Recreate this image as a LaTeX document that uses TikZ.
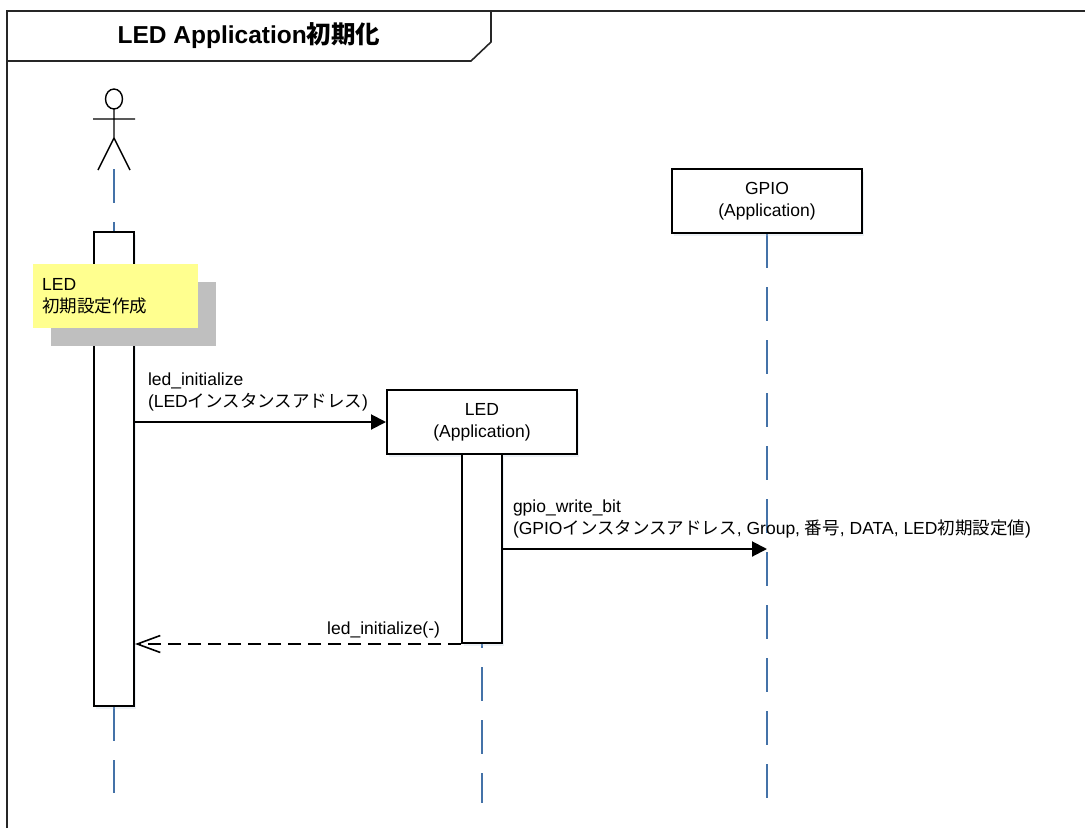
\documentclass[tikz,border=0pt]{standalone}
\usepackage{fontspec}
\setmainfont{Liberation Sans}
\newfontfamily\jp{Noto Sans CJK JP}
\usetikzlibrary{arrows.meta,shadows,backgrounds,positioning}
\definecolor{lifeblue}{RGB}{68,114,168}
\definecolor{noteyellow}{RGB}{255,255,143}

\begin{document}
\begin{tikzpicture}[
    x=1pt, y=-1pt,
    font=\fontsize{17.5}{22}\selectfont,
    framebox/.style={draw=black!85, line width=1.6pt},
    boxglow/.style={drop shadow={shadow xshift=2pt, shadow yshift=-3pt, fill=lifeblue!40, opacity=0.25}},
    objnode/.style={rectangle, draw, line width=2pt, fill=white, minimum width=190pt, minimum height=64pt, align=center, inner sep=0pt, boxglow},
    actbar/.style={rectangle, draw, line width=2pt, fill=white, minimum width=40pt, inner sep=0pt, boxglow},
    notenode/.style={rectangle, fill=noteyellow, text width=147pt, minimum height=64pt, inner xsep=9pt, inner ysep=0pt, align=left, drop shadow={shadow xshift=18pt, shadow yshift=-18pt, fill=black!25, opacity=1}},
    lifeline/.style={draw=lifeblue, line width=1.6pt, dash pattern=on 34pt off 19pt},
    msgline/.style={line width=2pt, -{Triangle[length=15pt,width=15pt]}},
    retline/.style={line width=2pt, dash pattern=on 13pt off 7pt, -{Straight Barb[length=23pt,width=17pt,line width=1.6pt]}},
    msglabel/.style={inner sep=0pt, align=left},
    ]
    \useasboundingbox (0,0) rectangle (1085,828);

    %Frame
    \draw[framebox] (7,828) -- (7,11) -- (1085,11);
    \draw[framebox] (7,61) -- (471,61) -- (491,42) -- (491,11);
    \node[font=\fontsize{24.5}{28}\selectfont\bfseries] (title) at (249,36) {LED Application{\jp 初期化}};

    %Actor
    \draw[line width=1.4pt] (114,99) ellipse [x radius=8.5, y radius=10];
    \draw[line width=1.4pt] (93,119) -- (135,119) (114,109) -- (114,138) (98,170) -- (114,138) -- (130,170);
    \coordinate (actor) at (114,169);

    %Nodes
    \node[objnode] (gpio) at (767,201) {GPIO\\(Application)};
    \node[objnode] (led)  at (482,422) {LED\\(Application)};
    \node[actbar, minimum height=474pt] (act0) at (114,469) {};
    \node[actbar, minimum height=189pt] (act1) at (482,548.5) {};
    \node[notenode, anchor=north west] (note) at (33,264) {LED\\{\jp 初期設定作成}};

    \coordinate (actorend) at (114,793);
    \coordinate (ledend)   at (482,803);
    \coordinate (gpioend)  at (767,803);
    \coordinate (gpiocall) at (767,549);

    %Lifelines
    \begin{scope}[on background layer]
    \draw[lifeline] (actor) -- (act0.north);
    \draw[lifeline] (act0.south) -- (actorend);
    \draw[lifeline] (led.south) -- (ledend);
    \draw[lifeline] (gpio.south) -- (gpioend);
    \end{scope}

    %Messages
    \draw[msgline] (act0.east |- led.west) -- (led.west)
        node[msglabel, pos=0, anchor=south west, xshift=12pt, yshift=10pt] (initlbl) {led\_initialize\\(LED{\jp インスタンスアドレス})};
    \draw[msgline] (act1.east |- gpiocall) -- (gpiocall)
        node[msglabel, pos=0, anchor=south west, xshift=9pt, yshift=10pt] (writelbl) {gpio\_write\_bit\\(GPIO{\jp インスタンスアドレス}, Group, {\jp 番号}, DATA, LED{\jp 初期設定値})};
    \draw[retline] (act1.south west) -- (act0.east |- act1.south)
        node[msglabel, pos=0, anchor=south east, xshift=-20pt, yshift=5pt] (retlbl) {led\_initialize(-)};
\end{tikzpicture}
\end{document}
